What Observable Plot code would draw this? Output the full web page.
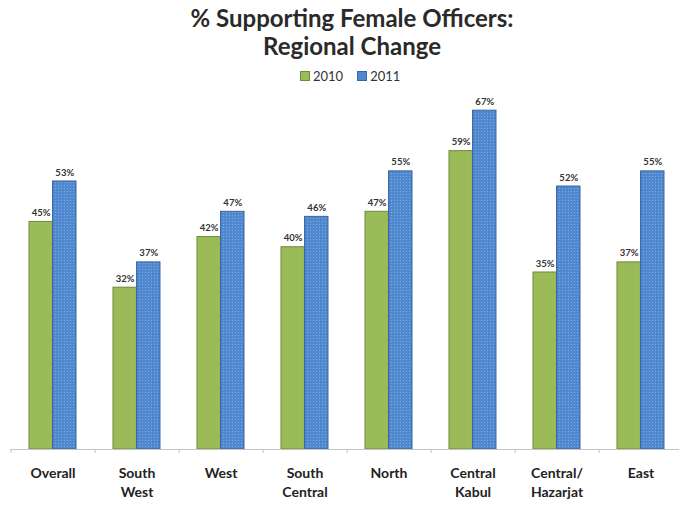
<!DOCTYPE html>
<html>
<head>
<meta charset="utf-8">
<script src="https://cdn.jsdelivr.net/npm/d3@7"></script>
<script src="https://cdn.jsdelivr.net/npm/@observablehq/plot@0.6"></script>
<style>
  html, body { margin: 0; padding: 0; background: #fff; }
  #wrap { width: 679px; height: 505px; position: relative; overflow: hidden; font-family: Lato, "Open Sans", sans-serif; }
  #head { position: relative; height: 88px; }
  .t { position: absolute; left: 0; width: 704px; text-align: center; font-weight: bold; font-size: 24px; color: #2a2a2a; }
  #legend { position: absolute; top: 68px; left: 300px; font-size: 13px; color: #333; display: flex; align-items: center; }
  .sw { width: 8px; height: 8px; display: inline-block; margin-right: 3px; }
  svg { display: block; }
</style>
</head>
<body>
<div id="wrap">
  <div id="head">
    <div class="t" style="top:3px">% Supporting Female Officers:</div>
    <div class="t" style="top:31px">Regional Change</div>
    <div id="legend"></div>
  </div>
  <div id="chart"></div>
</div>
<script>
const regions = ["Overall", "South West", "West", "South Central", "North", "Central Kabul", "Central/ Hazarjat", "East"];
const tickLabels = ["Overall", "South\nWest", "West", "South\nCentral", "North", "Central\nKabul", "Central/\nHazarjat", "East"];
const years = ["2010", "2011"];
const v2010 = [45, 32, 42, 40, 47, 59, 35, 37];
const v2011 = [53, 37, 47, 46, 55, 67, 52, 55];

const green = "#9bbb59", greenStroke = "#6f8a3a";
const blue = "#5088cf", blueStroke = "#3a659e";

const data = regions.map((r, i) => ({region: r, v2010: v2010[i], v2011: v2011[i]}));

const W = 679, H = 417, mL = 10, mR = -4;
const pIn = 0.44, pOut = 0.22;
const step = (W - mL - mR) / (regions.length - pIn + 2 * pOut);
const band = step * (1 - pIn);
const half = band / 2;

// legend
const leg = document.getElementById("legend");
[[years[0], green, greenStroke], [years[1], blue, blueStroke]].forEach(([y, c, s], i) => {
  const sw = document.createElement("span");
  sw.className = "sw";
  sw.style.background = c;
  sw.style.border = "1px solid " + s;
  if (i) sw.style.marginLeft = "14px";
  const tx = document.createElement("span");
  tx.textContent = y;
  leg.appendChild(sw); leg.appendChild(tx);
});

const chart = Plot.plot({
  width: W, height: H,
  marginLeft: mL, marginRight: mR, marginTop: 7, marginBottom: 56,
  style: {fontFamily: "Lato, 'Open Sans', sans-serif", background: "#fff"},
  x: {type: "band", domain: regions, paddingInner: pIn, paddingOuter: pOut, label: null},
  y: {domain: [0, 70], axis: null},
  marks: [
    Plot.barY(data, {x: "region", y: "v2010", fill: green, stroke: greenStroke, strokeWidth: 1, insetRight: half}),
    Plot.barY(data, {x: "region", y: "v2011", fill: "url(#dots)", stroke: blueStroke, strokeWidth: 1, insetLeft: half}),
    Plot.text(data, {x: "region", y: "v2010", text: d => d.v2010 + "%", dx: -half / 2, dy: -9, fontSize: 9.5, fontWeight: "bold", fill: "#333"}),
    Plot.text(data, {x: "region", y: "v2011", text: d => d.v2011 + "%", dx: half / 2, dy: -9, fontSize: 9.5, fontWeight: "bold", fill: "#333"}),
    Plot.ruleY([0], {stroke: "#c4c4c4", strokeWidth: 1}),
    Plot.ruleX(regions, {x: d => d, y1: 0, y2: -0.8, dx: step / 2, stroke: "#c4c4c4"}),
    Plot.ruleX(regions.slice(0, 1), {x: d => d, y1: 0, y2: -0.8, dx: -step / 2 + (step * pOut - step * pIn / 2), stroke: "#c4c4c4"}),
    Plot.axisX({tickSize: 0, tickPadding: 14, fontSize: 14, fontWeight: "bold", fill: "#222", lineHeight: 1.42,
      tickFormat: d => tickLabels[regions.indexOf(d)], label: null})
  ]
});

const svg = d3.select(chart);
const defs = svg.insert("defs", ":first-child");
const pat = defs.append("pattern").attr("id", "dots").attr("patternUnits", "userSpaceOnUse")
  .attr("width", 3).attr("height", 3);
pat.append("rect").attr("width", 3).attr("height", 3).attr("fill", blue);
pat.append("rect").attr("x", 1).attr("y", 1).attr("width", 1).attr("height", 1).attr("fill", "#80abe0");

document.getElementById("chart").appendChild(chart);
</script>
</body>
</html>
